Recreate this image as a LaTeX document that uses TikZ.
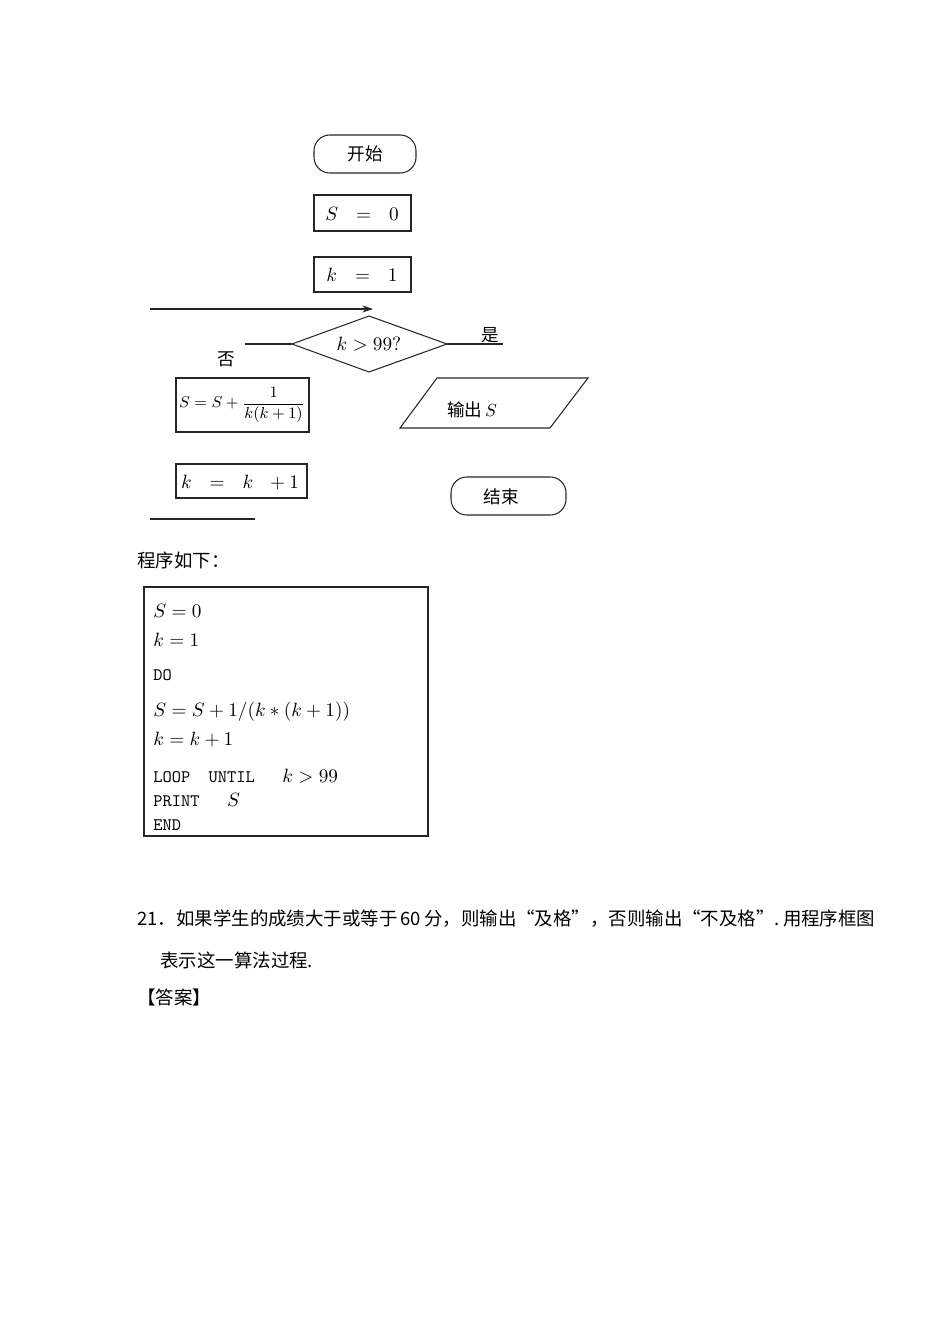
\documentclass[tikz,border=0pt]{standalone}
\usepackage{fontspec}
\newfontfamily\cjk{Noto Sans CJK SC}
\usetikzlibrary{shapes.geometric,arrows.meta}
\begin{document}
\begin{tikzpicture}[x=0.02cm,y=-0.02cm,
  ln/.style={draw=black!85,line width=0.6pt},
  term/.style={ln,rounded corners=9pt},
  lbl/.style={font=\cjk\fontsize{10}{12}\selectfont,inner sep=0pt},
  mth/.style={font=\fontsize{11}{13}\selectfont,inner sep=0pt},
  code/.style={font=\ttfamily\fontsize{10}{12}\selectfont,inner sep=0pt,anchor=west},
  body/.style={font=\cjk\fontsize{10.5}{13}\selectfont,inner sep=0pt,anchor=west}]
\useasboundingbox (0,0) rectangle (950,1344);
% flowchart
\draw[term] (314,135) rectangle (416,173);
\node[lbl] (start) at (365,154) {开始};
\draw[ln] (314,195) rectangle (411,231);
\node[mth] (s0) at (362,214) {$S\ \ =\ \ 0$};
\draw[ln] (314,257) rectangle (411,292);
\node[mth] (k1) at (362,275) {$k\ \ =\ \ 1$};
\coordinate (aL) at (150,309);
\coordinate (aR) at (373,309);
\draw[ln,-{Stealth[length=6pt,width=4pt]}] (aL) -- (aR);
\draw[ln] (369,316) -- (447,344) -- (369,372) -- (292,344) -- cycle;
\node[mth] (dec) at (369,344) {$k>99?$};
\coordinate (dl) at (292,344); \coordinate (dlx) at (245,344);
\coordinate (dr) at (447,344); \coordinate (drx) at (503,344);
\draw[ln] (dl) -- (dlx);
\draw[ln] (dr) -- (drx);
\node[lbl] (yes) at (490,335) {是};
\node[lbl] (no) at (226,359) {否};
\draw[ln] (176,378) rectangle (309,432);
\node[mth,font=\fontsize{9}{11}\selectfont] (sum) at (242,405) {$S=S+\displaystyle\frac{1}{k(k+1)}$};
\draw[ln] (400,428) -- (437,378) -- (588,378) -- (550,428) -- cycle;
\node[lbl] (out) at (472,410) {输出\,$S$};
\draw[ln] (176,464) rectangle (307,498);
\node[mth] (kk) at (240,483) {$k\ \ =\ \ k\ \ +1$};
\draw[term] (451,477) rectangle (566,515);
\node[lbl] (end) at (501,497) {结束};
\coordinate (bl) at (150,519); \coordinate (br) at (255,519);
\draw[ln] (bl) -- (br);
% program
\node[body] (prog) at (137,560) {程序如下：};
\draw[ln] (144,587) rectangle (428,836);
\node[mth,anchor=west] (c1) at (153,611) {$S=0$};
\node[mth,anchor=west] (c2) at (153,640) {$k=1$};
\node[code] (c3) at (153,675) {DO};
\node[mth,anchor=west] (c4) at (153,712) {$S=S+1/(k*(k+1))$};
\node[mth,anchor=west] (c5) at (153,740) {$k=k+1$};
\node[code] (c6) at (153,776) {LOOP\ \ UNTIL\ \ \ {\normalfont\fontsize{11}{13}\selectfont$k>99$}};
\node[code] (c7) at (153,800) {PRINT\ \ \ {\normalfont\fontsize{11}{13}\selectfont$S$}};
\node[code] (c8) at (153,825) {END};
% question
\node[body] (q1) at (137,919) {21．如果学生的成绩大于或等于\,60\,分，则输出“及格”，否则输出“不及格”.\,用程序框图};
\node[body] (q2) at (160,960) {表示这一算法过程.};
\node[body] (ans) at (137,997) {【答案】};
\end{tikzpicture}
\end{document}
